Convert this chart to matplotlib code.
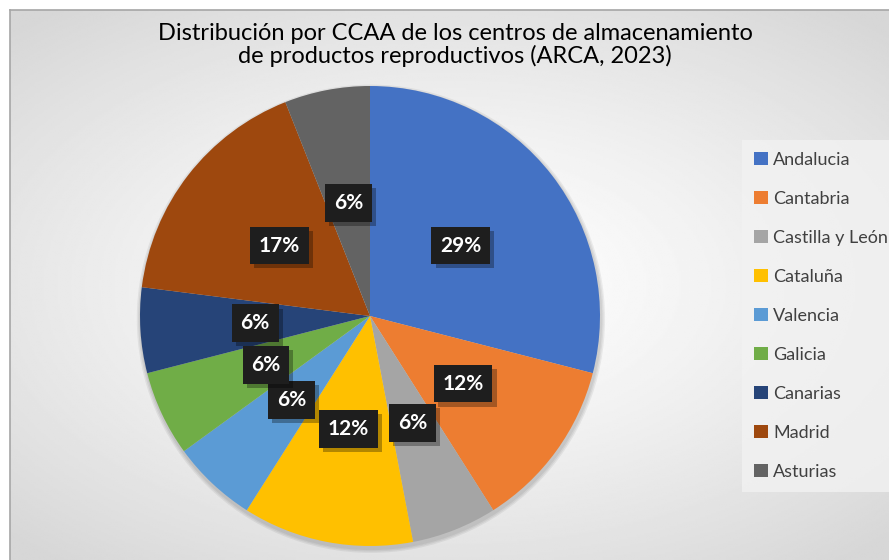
import numpy as np
import matplotlib.pyplot as plt
import matplotlib.patheffects as pe
from matplotlib.patches import Circle

regiones = ['Andalucia', 'Cantabria', 'Castilla y León', 'Cataluña', 'Valencia',
            'Galicia', 'Canarias', 'Madrid', 'Asturias']
porcentajes = [29, 12, 6, 12, 6, 6, 6, 17, 6]
colores = ['#4472C4', '#ED7D31', '#A5A5A5', '#FFC000', '#5B9BD5',
           '#70AD47', '#264478', '#9E480E', '#636363']

plt.rcParams['font.family'] = ['Lato', 'DejaVu Sans']

W, H = 889, 560
fig = plt.figure(figsize=(W / 100, H / 100), dpi=100)
fig.patch.set_facecolor('white')

# fondo con degradado radial
bg = fig.add_axes([10 / W, 0, 1 - 10 / W, 1 - 10 / H])
yy, xx = np.mgrid[-1:1:300j, -1:1:500j]
rr = np.sqrt((xx * 0.9) ** 2 + (yy * 1.0) ** 2)
grad = 1.0 - 0.16 * np.clip(rr / 1.3, 0, 1) ** 1.3
bg.imshow(grad, cmap='gray', vmin=0, vmax=1, aspect='auto', extent=(0, 1, 0, 1))
bg.set_xlim(0, 1)
bg.set_ylim(0, 1)
bg.set_xticks([])
bg.set_yticks([])
for s in ['right', 'bottom']:
    bg.spines[s].set_visible(False)
for s in ['left', 'top']:
    bg.spines[s].set_color('#a6a6a6')
    bg.spines[s].set_linewidth(1.2)

fig.text(455 / W, 1 - 45 / H,
         'Distribución por CCAA de los centros de almacenamiento\nde productos reproductivos (ARCA, 2023)',
         ha='center', va='center', fontsize=17, color='black', linespacing=1.05)

cx, cy, r = 370, 316, 230
ax = fig.add_axes([(cx - r) / W, (H - cy - r) / H, 2 * r / W, 2 * r / H])
ax.set_facecolor('none')
# sombra suave del círculo
for k in range(3):
    ax.add_patch(Circle((0.004, -0.012), 1 + 0.006 * (k + 1), fc='black', ec='none', alpha=0.06,
                        zorder=0, clip_on=False))
wedges, _ = ax.pie(porcentajes, colors=colores, startangle=90, counterclock=False,
                   radius=1, wedgeprops=dict(linewidth=0))
ax.set_xlim(-1, 1)
ax.set_ylim(-1, 1)

# etiquetas de porcentaje
acum = 0
for p in porcentajes:
    mid = np.deg2rad(90 - (acum + p / 2) * 3.6)
    acum += p
    x, y = 0.5 * np.cos(mid), 0.5 * np.sin(mid)
    t = ax.text(x, y, f'{p}%', ha='center', va='center', fontsize=15,
                fontweight='bold', color='white',
                bbox=dict(boxstyle='square,pad=0.42', fc='#1e1e1e', ec='none'))
    t.get_bbox_patch().set_path_effects([
        pe.SimplePatchShadow(offset=(3, -3), shadow_rgbFace='black', alpha=0.3),
        pe.Normal()])

leg = fig.legend(wedges, regiones, loc='upper left',
                 bbox_to_anchor=(742 / W, 1 - 140 / H), frameon=True,
                 fontsize=13, labelspacing=1.27, handlelength=0.78,
                 handleheight=0.78, handletextpad=0.3, borderpad=0.65,
                 borderaxespad=0, fancybox=False)
leg.get_frame().set_facecolor('#f2f2f2')
leg.get_frame().set_edgecolor('none')
for t in leg.get_texts():
    t.set_color('#404040')

fig.savefig('out.png', dpi=100)
